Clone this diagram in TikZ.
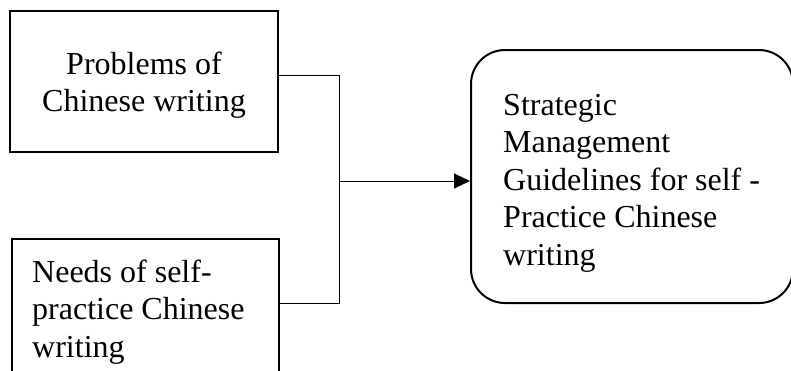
\documentclass[tikz,border=0pt]{standalone}
\usepackage{fontspec}
\setmainfont{Liberation Serif}
\usetikzlibrary{arrows.meta}
\begin{document}
\begin{tikzpicture}[x=1pt,y=-1pt,
  box/.style={draw=black, line width=2.2pt, inner sep=0pt},
  rbox/.style={draw=black, line width=2pt, inner sep=0pt, rounded corners=34pt},
  txt/.style={inner sep=0pt, font=\fontsize{32}{37.5}\selectfont},
  conn/.style={draw=black, line width=1pt},
  arr/.style={conn, -{Triangle[length=16pt,width=15pt]}}]
\useasboundingbox (0,0) rectangle (791,370);
\clip (0,0) rectangle (791,370);
\node[box, minimum width=268pt, minimum height=141pt] (b1) at (144,81.5) {};
\node[box, minimum width=267pt, minimum height=161pt] (b2) at (145.5,319.5) {};
\node[rbox, minimum width=322pt, minimum height=253pt] (g) at (632,176.5) {};
\node[txt, anchor=north, align=center] (t1) at (144,48) {\rule{0pt}{26pt}Problems of\\Chinese writing};
\node[txt, anchor=north west, align=left] (t2) at (32,256) {\rule{0pt}{26pt}Needs of self-\\practice Chinese\\writing};
\node[txt, anchor=north west, align=left] (t3) at (503,89) {\rule{0pt}{26pt}Strategic\\Management\\Guidelines for self -\\Practice Chinese\\writing};
\coordinate (j1) at (339,75);
\coordinate (j2) at (339,303);
\coordinate (jm) at (339,181);
\draw[conn] (b1.east |- j1) -- (j1) -- (j2) -- (b2.east |- j2);
\draw[arr] (jm) -- (g.west |- jm);
\end{tikzpicture}
\end{document}
